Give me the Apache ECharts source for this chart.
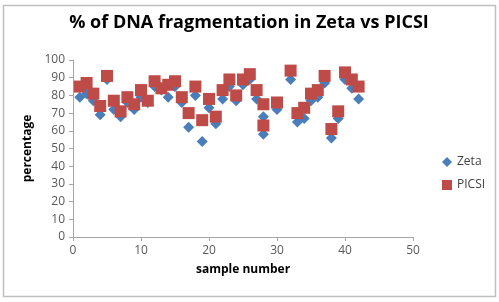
<!DOCTYPE html>
<html>
<head>
<meta charset="utf-8">
<script src="https://cdn.jsdelivr.net/npm/echarts@6/dist/echarts.min.js"></script>
<style>
  html, body { margin: 0; padding: 0; background: #fff; }
</style>
</head>
<body>
<div id="main" style="width: 499px;height: 302px;"></div>
<script>
// sample numbers (x) and percentages
var samples = [1, 2, 3, 4, 5, 6, 7, 8, 9, 10, 11, 12, 13, 14, 15, 16, 17, 18, 19, 20,
  21, 22, 23, 24, 25, 26, 27, 28, 28, 30, 32, 33, 34, 35, 36, 37, 38, 39, 40, 41, 42];
var zeta = [79, 81, 77, 69, 89, 72, 68, 76, 72, 79, 76, 85, 83, 79, 85, 76, 62, 80, 54, 73,
  64, 78, 85, 77, 86, 89, 78, 68, 58, 72, 89, 65, 67, 77, 79, 87, 56, 67, 89, 84, 78];
var picsi = [85, 87, 81, 74, 91, 77, 71, 79, 75, 83, 77, 88, 84, 86, 88, 79, 70, 85, 66, 78,
  68, 83, 89, 80, 89, 92, 83, 75, 63, 76, 94, 70, 73, 81, 83, 91, 61, 71, 93, 89, 85];

function pairs(xs, ys) {
  var arr = [];
  for (let i = 0; i < xs.length; i++) arr.push([xs[i], ys[i]]);
  return arr;
}

var chartDom = document.getElementById('main');
var myChart = echarts.init(chartDom);
var option;

var axisText = { color: '#595959', fontSize: 12, fontFamily: 'Open Sans' };

option = {
  animation: false,
  title: {
    text: '% of DNA fragmentation in Zeta vs PICSI',
    left: 244,
    textAlign: 'center',
    top: 9,
    textStyle: { fontFamily: 'Open Sans', fontWeight: 'bold', fontSize: 18, color: '#000' }
  },
  graphic: [{
    type: 'rect',
    shape: { x: 3.5, y: 5.5, width: 492, height: 291 },
    style: { fill: 'none', stroke: '#bfbfbf', lineWidth: 1.5 },
    silent: true
  }],
  legend: {
    orient: 'vertical',
    left: 437,
    top: 151,
    itemWidth: 10,
    itemHeight: 10,
    itemGap: 11,
    textStyle: { fontFamily: 'Open Sans', fontSize: 12, color: '#404040' },
    data: [
      { name: 'Zeta', icon: 'diamond' },
      { name: 'PICSI', icon: 'rect' }
    ]
  },
  grid: { left: 73, right: 86, top: 60, bottom: 65 },
  xAxis: {
    type: 'value',
    min: 0,
    max: 50,
    interval: 10,
    name: 'sample number',
    nameLocation: 'middle',
    nameGap: 27,
    nameTextStyle: { fontFamily: 'Open Sans', fontWeight: 'bold', fontSize: 12, color: '#000' },
    axisLine: { show: true, lineStyle: { color: '#a6a6a6' } },
    axisTick: { show: true, length: 4, lineStyle: { color: '#a6a6a6' } },
    axisLabel: axisText,
    splitLine: { show: false }
  },
  yAxis: {
    type: 'value',
    min: 0,
    max: 100,
    interval: 10,
    name: 'percentage',
    nameLocation: 'middle',
    nameGap: 34,
    nameTextStyle: { fontFamily: 'Open Sans', fontWeight: 'bold', fontSize: 12, color: '#000' },
    axisLine: { show: true, lineStyle: { color: '#a6a6a6' } },
    axisTick: { show: true, length: 4, lineStyle: { color: '#a6a6a6' } },
    axisLabel: axisText,
    splitLine: { show: false }
  },
  series: [
    {
      name: 'Zeta',
      type: 'scatter',
      symbol: 'diamond',
      symbolSize: 11,
      itemStyle: { color: '#4a7ebb', opacity: 1 },
      data: pairs(samples, zeta)
    },
    {
      name: 'PICSI',
      type: 'scatter',
      symbol: 'rect',
      symbolSize: 12,
      itemStyle: { color: '#be4b48', opacity: 1 },
      data: pairs(samples, picsi)
    }
  ]
};

option && myChart.setOption(option);
</script>
</body>
</html>
